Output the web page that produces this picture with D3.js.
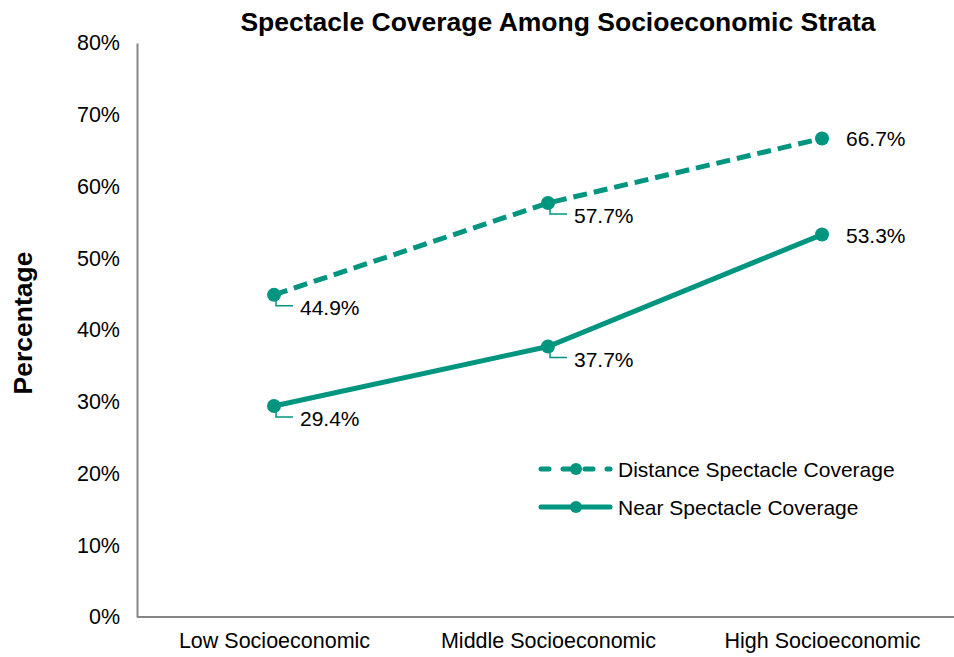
<!DOCTYPE html>
<html><head><meta charset="utf-8">
<script src="https://cdn.jsdelivr.net/npm/d3@7"></script>
<style>body{margin:0;background:#fff}svg{display:block}text{font-family:"Liberation Sans",Arial,sans-serif}</style>
</head><body>
<svg id="c" width="954" height="657"></svg>
<script>
const categories = ["Low Socioeconomic", "Middle Socioeconomic", "High Socioeconomic"];
const distanceValues = [44.9, 57.7, 66.7];
const nearValues = [29.4, 37.7, 53.3];
const yTicks = [0, 10, 20, 30, 40, 50, 60, 70, 80];
const seriesNames = ["Distance Spectacle Coverage", "Near Spectacle Coverage"];

(function () {
const color = "#00957f";
const svg = d3.select("#c");
const mLeft = 137, mRight = 959, mTop = 43, mBottom = 617;
const x = d3.scalePoint().domain(categories).range([mLeft, mRight]).padding(0.5);
const y = d3.scaleLinear().domain([0, 80]).range([mBottom, mTop]);

// title
svg.append("text").attr("x", 558).attr("y", 31).attr("text-anchor", "middle")
  .attr("font-size", 26.5).attr("font-weight", "bold").text("Spectacle Coverage Among Socioeconomic Strata");
svg.append("text").attr("transform", "translate(32,323) rotate(-90)").attr("text-anchor", "middle")
  .attr("font-size", 26.5).attr("font-weight", "bold").text("Percentage");

// axes
const yAxis = d3.axisLeft(y).tickValues(yTicks).tickSize(0).tickPadding(17).tickFormat(d => d + "%");
const gy = svg.append("g").attr("transform", `translate(${mLeft},0)`).call(yAxis);
gy.select(".domain").attr("stroke", "#868686").attr("stroke-width", 2);
gy.selectAll("text").attr("font-size", 21.5).attr("fill", "#000").style("font-family", '"Liberation Sans",Arial,sans-serif');

const xAxis = d3.axisBottom(x).tickSize(0).tickPadding(16);
const gx = svg.append("g").attr("transform", `translate(0,${mBottom})`).call(xAxis);
gx.select(".domain").attr("stroke", "#868686").attr("stroke-width", 2).attr("d", `M${mLeft},0H954`);
gx.selectAll("text").attr("font-size", 21.5).attr("fill", "#000").style("font-family", '"Liberation Sans",Arial,sans-serif');

const line = d3.line().x((d, i) => x(categories[i])).y(d => y(d));
const series = [
  {name: seriesNames[0], values: distanceValues, dash: "14,7"},
  {name: seriesNames[1], values: nearValues, dash: null}
];

series.forEach(s => {
  svg.append("path").datum(s.values).attr("d", line).attr("fill", "none")
    .attr("stroke", color).attr("stroke-width", 5).attr("stroke-dasharray", s.dash);
  svg.selectAll(null).data(s.values).enter().append("circle")
    .attr("cx", (d, i) => x(categories[i])).attr("cy", d => y(d)).attr("r", 7).attr("fill", color);
  s.values.forEach((v, i) => {
    const px = x(categories[i]), py = y(v);
    if (i < 2) {
      svg.append("path").attr("d", `M${px+2},${py+4}V${py+11}H${px+19}`)
        .attr("fill", "none").attr("stroke", color).attr("stroke-width", 1.5);
      svg.append("text").attr("x", px + 26).attr("y", py + 20).attr("font-size", 21)
        .text(v.toFixed(1) + "%");
    } else {
      svg.append("text").attr("x", px + 24).attr("y", py + 8).attr("font-size", 21)
        .text(v.toFixed(1) + "%");
    }
  });
});

// legend
series.forEach((s, k) => {
  const ly = 469 + k * 38;
  svg.append("line").attr("x1", 541).attr("x2", 610).attr("y1", ly).attr("y2", ly)
    .attr("stroke", color).attr("stroke-width", 5).attr("stroke-linecap", "round")
    .attr("stroke-dasharray", s.dash ? "8,14" : null);
  svg.append("circle").attr("cx", 576).attr("cy", ly).attr("r", 6).attr("fill", color);
  svg.append("text").attr("x", 618).attr("y", ly + 8).attr("font-size", 21).text(s.name);
});
})();
</script>
</body></html>
